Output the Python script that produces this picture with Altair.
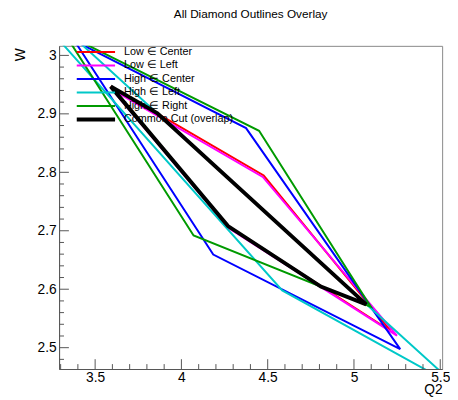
import altair as alt
import pandas as pd

# ---- series definitions ----
series_labels = ["Low \u2208 Center", "Low \u2208 Left", "High \u2208 Center",
                 "High \u2208 Left", "High \u2208 Right", "Common Cut (overlap)"]
series_colors = ["#ff0000", "#ff00ff", "#0000ff", "#00c8c8", "#009a00", "#000000"]
series_widths = [2, 2, 2, 2, 2, 4]

# diamond outlines (closed polygons)
low_center_q2 = [3.590, 4.477, 5.211, 4.270, 3.590]
low_center_w = [2.947, 2.7945, 2.529, 2.708, 2.947]
low_left_q2 = [3.599, 4.4715, 5.249, 4.275, 3.599]
low_left_w = [2.9415, 2.792, 2.5205, 2.7045, 2.9415]
high_center_q2 = [3.380, 4.3745, 5.268, 4.1845, 3.380]
high_center_w = [3.025, 2.8756, 2.4975, 2.6592, 3.025]
high_left_q2 = [2.842, 5.088, 5.607, 4.584, 2.842]
high_left_w = [3.175, 2.570, 2.431, 2.598, 3.175]
high_right_q2 = [3.324, 4.450, 5.097, 4.0705, 3.324]
high_right_w = [3.037, 2.871, 2.570, 2.692, 3.037]
common_q2 = [3.590, 3.861, 5.071, 4.808, 4.270, 3.590]
common_w = [2.947, 2.901, 2.574, 2.6045, 2.708, 2.947]

# axis ranges and ticks
x_domain = [3.291, 5.511]
y_domain = [2.4635, 3.0163]
x_major = [3.5, 4.0, 4.5, 5.0, 5.5]
x_minor = [3.3, 3.4, 3.6, 3.7, 3.8, 3.9, 4.1, 4.2, 4.3, 4.4, 4.6, 4.7, 4.8, 4.9,
           5.1, 5.2, 5.3, 5.4]
y_major = [2.5, 2.6, 2.7, 2.8, 2.9, 3.0]
y_minor = [2.48, 2.52, 2.54, 2.56, 2.58, 2.62, 2.64, 2.66, 2.68, 2.72, 2.74, 2.76,
           2.78, 2.82, 2.84, 2.86, 2.88, 2.92, 2.94, 2.96, 2.98]

all_q2 = [low_center_q2, low_left_q2, high_center_q2, high_left_q2, high_right_q2, common_q2]
all_w = [low_center_w, low_left_w, high_center_w, high_left_w, high_right_w, common_w]

rows = []
for s, (qs, ws) in enumerate(zip(all_q2, all_w)):
    for i, (q, w) in enumerate(zip(qs, ws)):
        rows.append({"series": series_labels[s], "sidx": s, "idx": i, "Q2": q, "W": w})
df = pd.DataFrame(rows)

W_PLOT, H_PLOT = 390, 329
FONT = "Liberation Sans"
AXC = "#555555"

xs = alt.Scale(domain=x_domain, nice=False, zero=False)
ys = alt.Scale(domain=y_domain, nice=False, zero=False)
cscale = alt.Scale(domain=series_labels, range=series_colors)
wscale = alt.Scale(type="ordinal", domain=series_labels, range=series_widths)

x_axis = alt.Axis(
    values=x_major, format="~g", ticks=False, grid=False, domainColor=AXC,
    labelFontSize=14, labelFont=FONT, labelColor="black", labelPadding=2,
    labelFlush=False, labelOverlap=False,
    title="Q2", titleFont=FONT, titleFontSize=14, titleFontWeight="normal",
    titleColor="black", titleX=W_PLOT, titleY=25, titleAlign="right",
    titleBaseline="alphabetic")
y_axis = alt.Axis(
    values=y_major, format="~g", ticks=False, grid=False, domainColor=AXC,
    labelFontSize=14, labelFont=FONT, labelColor="black", labelPadding=3,
    labelFlush=False, labelOverlap=False,
    title="W", titleFont=FONT, titleFontSize=14, titleFontWeight="normal",
    titleColor="black", titleAngle=-90, titleX=-39, titleY=2,
    titleAlign="right", titleBaseline="middle")

lines = alt.Chart(df).mark_line(clip=True).encode(
    x=alt.X("Q2:Q", scale=xs, axis=x_axis),
    y=alt.Y("W:Q", scale=ys, axis=y_axis),
    color=alt.Color("series:N", scale=cscale, legend=None),
    strokeWidth=alt.StrokeWidth("series:N", scale=wscale, legend=None),
    detail="sidx:N",
    order="idx:Q",
)

xt_major = alt.Chart(pd.DataFrame({"v": x_major})).mark_rule(color=AXC).encode(
    x=alt.X("v:Q", scale=xs, axis=x_axis, title="Q2"),
    y=alt.value(H_PLOT), y2=alt.value(H_PLOT - 10))
xt_minor = alt.Chart(pd.DataFrame({"v": x_minor})).mark_rule(color=AXC).encode(
    x=alt.X("v:Q", scale=xs, axis=x_axis, title="Q2"),
    y=alt.value(H_PLOT), y2=alt.value(H_PLOT - 5))
yt_major = alt.Chart(pd.DataFrame({"v": y_major})).mark_rule(color=AXC).encode(
    y=alt.Y("v:Q", scale=ys, axis=None), x=alt.value(0), x2=alt.value(10))
yt_minor = alt.Chart(pd.DataFrame({"v": y_minor})).mark_rule(color=AXC).encode(
    y=alt.Y("v:Q", scale=ys, axis=None), x=alt.value(0), x2=alt.value(5))

leg_df = pd.DataFrame({"label": series_labels})
leg_y = alt.Y("label:N", scale=alt.Scale(type="point", domain=series_labels,
                                          range=[6.3, 75], padding=0), axis=None)
leg_rules = alt.Chart(leg_df).mark_rule().encode(
    y=leg_y, x=alt.value(18), x2=alt.value(57),
    color=alt.Color("label:N", scale=cscale, legend=None),
    strokeWidth=alt.StrokeWidth("label:N", scale=wscale, legend=None))
leg_text = alt.Chart(leg_df).mark_text(align="left", baseline="middle", fontSize=11,
                                       font=FONT, color="black").encode(
    y=leg_y, x=alt.value(66), text="label:N")

chart = alt.layer(lines, xt_major, xt_minor, yt_major, yt_minor, leg_rules, leg_text
                  ).resolve_scale(y="independent").properties(
    width=W_PLOT, height=H_PLOT,
    title=alt.TitleParams("All Diamond Outlines Overlay", fontSize=12, fontWeight="normal",
                          font=FONT, color="black", offset=25, anchor="middle"),
    padding={"left": 52, "top": 35, "right": 8, "bottom": 28},
    autosize=alt.AutoSizeParams(type="none"),
).configure_view(stroke="#888888", strokeWidth=1)

chart.save("out.html", embed_options={"renderer": "svg", "actions": False})
